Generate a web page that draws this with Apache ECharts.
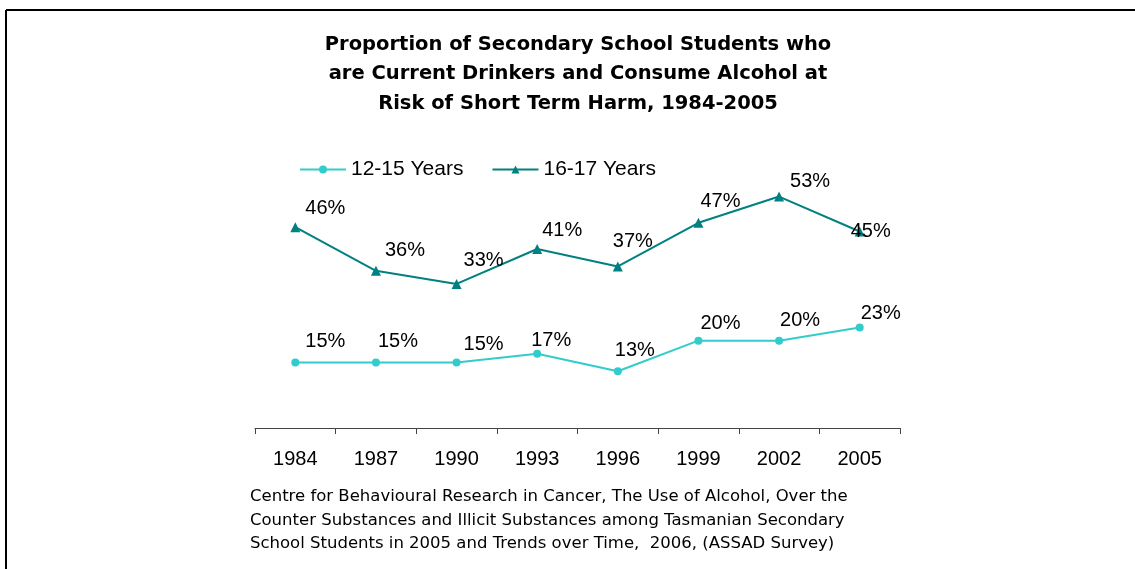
<!DOCTYPE html>
<html>
<head>
<meta charset="utf-8">
<title></title>
<script src="https://cdn.jsdelivr.net/npm/echarts@6/dist/echarts.min.js"></script>
<style>
  html, body { margin: 0; padding: 0; background: #fff; }
  #main { width: 1135px; height: 569px; }
</style>
</head>
<body>
<div id="main"></div>
<script>
// data
var years = ['1984', '1987', '1990', '1993', '1996', '1999', '2002', '2005'];
var young = [15, 15, 15, 17, 13, 20, 20, 23];   // 12-15 Years
var older = [46, 36, 33, 41, 37, 47, 53, 45];   // 16-17 Years
var seriesNames = ['12-15 Years', '16-17 Years'];

// label offsets (as placed in the original)
var youngOff = [[30, -21], [22, -21], [27, -18], [14, -13], [17, -21], [22, -17], [21, -20], [21, -14]];
var olderOff = [[30, -19], [29, -20], [27, -23], [25, -18], [15, -25], [22, -21], [31, -15], [11, 0]];

var FONT = 'Liberation Sans, Arial, sans-serif';
var WIDE = 'DejaVu Sans, sans-serif';

function withLabels(vals, offs) {
  return vals.map(function (v, i) {
    return { value: v, label: { offset: offs[i] } };
  });
}

var chart = echarts.init(document.getElementById('main'));
chart.setOption({
  backgroundColor: '#fff',
  animation: false,
  title: {
    text: 'Proportion of Secondary School Students who\nare Current Drinkers and Consume Alcohol at\nRisk of Short Term Harm, 1984-2005',
    left: 573,
    textAlign: 'center',
    top: 25,
    textStyle: { fontFamily: WIDE, fontSize: 19.5, fontWeight: 'bold', color: '#000', lineHeight: 29.5 }
  },
  legend: {
    left: 294,
    top: 154,
    itemWidth: 46,
    itemHeight: 10,
    itemGap: 28,
    textStyle: { fontFamily: FONT, fontSize: 21, color: '#000' },
    data: seriesNames
  },
  grid: { left: 255, right: 235, top: 166, bottom: 141 },
  xAxis: {
    type: 'category',
    data: years,
    boundaryGap: true,
    axisLine: { lineStyle: { color: '#444', width: 1 } },
    axisTick: { show: true, length: 6, lineStyle: { color: '#444' } },
    axisLabel: { fontFamily: FONT, fontSize: 20, color: '#000', margin: 21 }
  },
  yAxis: {
    type: 'value',
    min: 0,
    max: 60,
    show: false,
    splitLine: { show: false }
  },
  series: [
    {
      name: seriesNames[0],
      type: 'line',
      data: withLabels(young, youngOff),
      color: '#33CCCC',
      symbol: 'circle',
      symbolSize: 8,
      lineStyle: { width: 2 },
      label: {
        show: true, position: 'inside', formatter: '{c}%',
        fontFamily: FONT, fontSize: 20, color: '#000'
      }
    },
    {
      name: seriesNames[1],
      type: 'line',
      data: withLabels(older, olderOff),
      color: '#008080',
      symbol: 'triangle',
      symbolSize: 10,
      lineStyle: { width: 2 },
      label: {
        show: true, position: 'inside', formatter: '{c}%',
        fontFamily: FONT, fontSize: 20, color: '#000'
      }
    }
  ],
  graphic: [
    { type: 'line', shape: { x1: 6, y1: 10, x2: 1135, y2: 10 }, style: { stroke: '#000', lineWidth: 2 } },
    { type: 'line', shape: { x1: 6, y1: 10, x2: 6, y2: 569 }, style: { stroke: '#000', lineWidth: 2 } },
    {
      type: 'text',
      left: 250,
      top: 485,
      style: {
        text: 'Centre for Behavioural Research in Cancer, The Use of Alcohol, Over the\nCounter Substances and Illicit Substances among Tasmanian Secondary\nSchool Students in 2005 and Trends over Time,  2006, (ASSAD Survey)',
        font: '16.5px ' + WIDE,
        fill: '#000',
        lineHeight: 23.5
      }
    }
  ]
});
</script>
</body>
</html>
